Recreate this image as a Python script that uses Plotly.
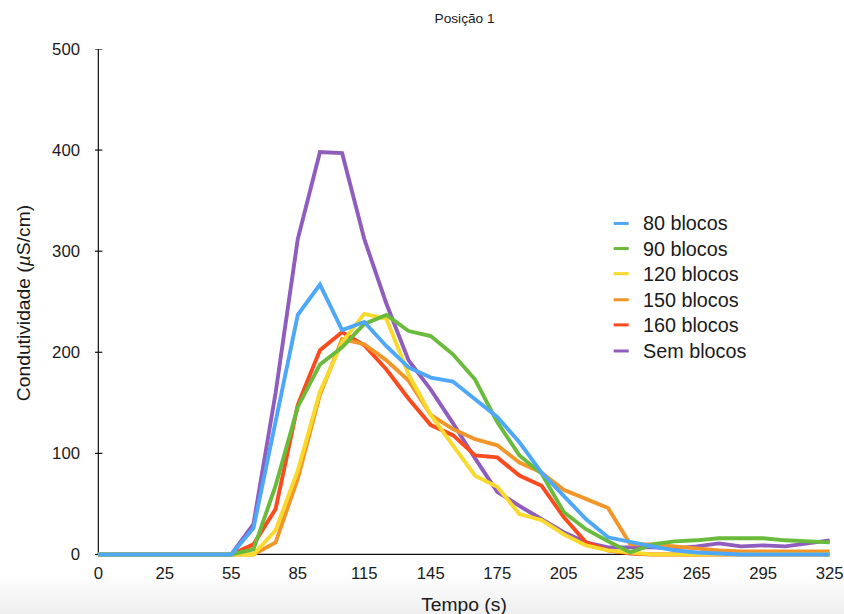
import plotly.graph_objects as go

# Sampling times (s); the axis is categorical, labelled every third sample
times = [0, 5, 15, 25, 35, 45, 55, 65, 75, 85, 95, 105, 115, 125, 135, 145, 155,
         165, 175, 185, 195, 205, 215, 225, 235, 245, 255, 265, 275, 285, 295,
         305, 315, 325]
tick_times = [0, 25, 55, 85, 115, 145, 175, 205, 235, 265, 295, 325]

lead = [0, 0, 0, 0, 0, 0]  # 0–45 s, before the tracer arrives

blocos_80 = lead + [0, 26, 130, 237, 267, 222, 230, 206, 185, 175, 171, 154, 136, 111,
                    81, 58, 35, 17, 12, 8, 4, 2, 1, 0, 0, 0, 0, 0]
blocos_90 = lead + [0, 5, 68, 146, 188, 205, 228, 237, 221, 216, 198, 173, 131, 98,
                    80, 42, 25, 13, 2, 10, 13, 14, 16, 16, 16, 14, 13, 12]
blocos_120 = lead + [0, 0, 24, 83, 161, 210, 238, 233, 178, 138, 108, 78, 67, 40,
                     34, 20, 9, 4, 2, 0, 0, 0, 0, 0, 0, 0, 0, 0]
blocos_150 = lead + [0, 0, 12, 75, 158, 213, 208, 192, 172, 138, 124, 114, 108, 91,
                     81, 64, 55, 46, 10, 10, 8, 6, 4, 3, 3, 3, 3, 3]
blocos_160 = lead + [0, 10, 45, 148, 202, 220, 207, 183, 154, 128, 118, 98, 96, 78,
                     68, 37, 12, 4, 1, 0, 0, 0, 0, 0, 0, 0, 0, 0]
sem_blocos = lead + [0, 30, 160, 312, 398, 397, 312, 248, 192, 163, 130, 95, 62, 48,
                     35, 22, 12, 7, 7, 7, 6, 8, 11, 8, 9, 8, 11, 14]

series_names = ["80 blocos", "90 blocos", "120 blocos", "150 blocos", "160 blocos", "Sem blocos"]
series_values = [blocos_80, blocos_90, blocos_120, blocos_150, blocos_160, sem_blocos]
series_colors = ["#4EA8F7", "#6ABB3C", "#F9DA2C", "#F2962A", "#FB4A1E", "#8E5DBE"]

y_ticks = [0, 100, 200, 300, 400, 500]

FONT = "Liberation Sans, Arial, Helvetica, sans-serif"

# canvas size and margins (px)
W, H = 856, 623
ML, MR, MT, MB = 95, 13, 49, 61
PW, PH = W - ML - MR, H - MT - MB
K = 844 / W  # layout positions below are given on an 844-wide grid


def px_x(p):
    return (p / K - ML) / PW


def px_y(p):
    return (H - MB - p / K) / PH


def fs(s):
    return s / K


cats = [str(t) for t in times]

fig = go.Figure()
# draw the reference series last so it sits on top
for name, vals, col in reversed(list(zip(series_names, series_values, series_colors))):
    fig.add_trace(go.Scatter(
        x=cats, y=vals, mode="lines", name=name,
        line=dict(color=col, width=3.9), showlegend=False,
    ))

shapes = []
# soft grey band along the bottom edge
n_strips = 14
for i in range(n_strips):
    top = 573 + i * 3
    g = int(255 - (255 - 238) * (i + 1) / n_strips)
    shapes.append(dict(type="rect", xref="paper", yref="paper",
                       x0=-0.2, x1=1.2, y0=px_y(top + 3.3), y1=px_y(top),
                       fillcolor=f"rgb({g},{g},{g})", line_width=0, layer="below"))

# axis lines
shapes.append(dict(type="line", xref="x", yref="y", x0=0, x1=len(times) - 1, y0=0, y1=0,
                   line=dict(color="#111", width=1.2), layer="below"))
shapes.append(dict(type="line", xref="x", yref="y", x0=0, x1=0, y0=0, y1=500,
                   line=dict(color="#111", width=1.2), layer="below"))
# tick marks crossing the value axis
for v in y_ticks:
    shapes.append(dict(type="line", xref="x", yref="y", xsizemode="pixel", xanchor=0,
                       x0=-4, x1=4, y0=v, y1=v, line=dict(color="#111", width=1.2),
                       layer="below"))

# legend
annotations = []
leg_y = [222, 247, 272, 298, 323, 349]
for name, col, yy in zip(series_names, series_colors, leg_y):
    shapes.append(dict(type="line", xref="paper", yref="paper",
                       x0=px_x(612), x1=px_x(627), y0=px_y(yy), y1=px_y(yy),
                       line=dict(color=col, width=3)))
    annotations.append(dict(xref="paper", yref="paper", x=px_x(639), y=px_y(yy),
                            xanchor="left", yanchor="middle", text=name, showarrow=False,
                            font=dict(family=FONT, size=fs(19.5), color="#1a1a1a")))

fig.update_layout(
    width=W, height=H,
    margin=dict(l=ML, r=MR, t=MT, b=MB),
    paper_bgcolor="white", plot_bgcolor="white",
    title=dict(text="Posição 1", x=px_x(463), xref="paper", xanchor="center",
               y=1 - 18 / K / H, yanchor="middle",
               font=dict(family=FONT, size=fs(13.5), color="#1a1a1a")),
    xaxis=dict(
        type="category", categoryorder="array", categoryarray=cats,
        range=[-0.15, len(times) - 1 + 0.15],
        tickmode="array", tickvals=[str(t) for t in tick_times],
        ticktext=[str(t) for t in tick_times],
        ticks="", showline=False, showgrid=False, zeroline=False,
        ticklabelstandoff=4,
        tickfont=dict(family=FONT, size=fs(16.5), color="#1a1a1a"),
        title=dict(text="Tempo (s)", standoff=15,
                   font=dict(family=FONT, size=fs(19), color="#1a1a1a")),
    ),
    yaxis=dict(
        range=[-2.5, 500], tickvals=y_ticks,
        ticks="", showline=False, showgrid=False, zeroline=False,
        ticklabelstandoff=14,
        tickfont=dict(family=FONT, size=fs(16.5), color="#1a1a1a"),
        title=dict(text="Condutividade (<i>µ</i>S/cm)", standoff=16,
                   font=dict(family=FONT, size=fs(19), color="#1a1a1a")),
    ),
    shapes=shapes,
    annotations=annotations,
)

fig.write_html("out.html")
